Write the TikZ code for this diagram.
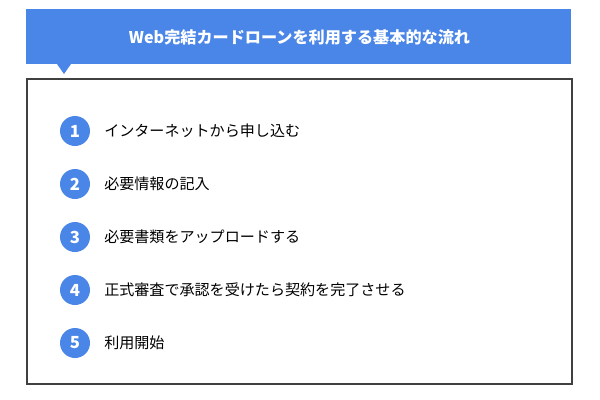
\documentclass[tikz,border=0pt]{standalone}
\usepackage{fontspec}
\setmainfont{Noto Sans CJK JP}
\usetikzlibrary{positioning}
\definecolor{flowblue}{HTML}{4A86E8}
\definecolor{framegray}{HTML}{404040}

\begin{document}
\begin{tikzpicture}[x=0.75pt, y=-0.75pt,
    node distance=39.75pt,
    on grid,
    every step/.style={circle, fill=flowblue, minimum size=22.5pt, inner sep=0pt,
        text=white, font=\bfseries\fontsize{12.5}{14}\selectfont},
    every item/.style={anchor=west, inner sep=0pt, font=\fontsize{11.3}{13}\selectfont}]

    \useasboundingbox (0,0) rectangle (600,400);

    % header band with pointer
    \fill[flowblue] (26,9) rectangle (571,64);
    \fill[flowblue] (57,64) -- (71,64) -- (64,74) -- cycle;
    \node[text=white, font=\bfseries\fontsize{12.1}{14}\selectfont] (title) at (299.5,37)
        {Web完結カードローンを利用する基本的な流れ};

    % frame
    \draw[framegray, line width=1.1pt] (27,79) rectangle (572,384);

    \node[every step]          (n_1) at (75,131) {1};
    \node[every step]          (n_2) [below=of n_1] {2};
    \node[every step]          (n_3) [below=of n_2] {3};
    \node[every step]          (n_4) [below=of n_3] {4};
    \node[every step]          (n_5) [below=of n_4] {5};

    \node[every item] (t_1) at ([xshift=21.75pt]n_1.center) {インターネットから申し込む};
    \node[every item] (t_2) at ([xshift=21.75pt]n_2.center) {必要情報の記入};
    \node[every item] (t_3) at ([xshift=21.75pt]n_3.center) {必要書類をアップロードする};
    \node[every item] (t_4) at ([xshift=21.75pt]n_4.center) {正式審査で承認を受けたら契約を完了させる};
    \node[every item] (t_5) at ([xshift=21.75pt]n_5.center) {利用開始};
\end{tikzpicture}
\end{document}
